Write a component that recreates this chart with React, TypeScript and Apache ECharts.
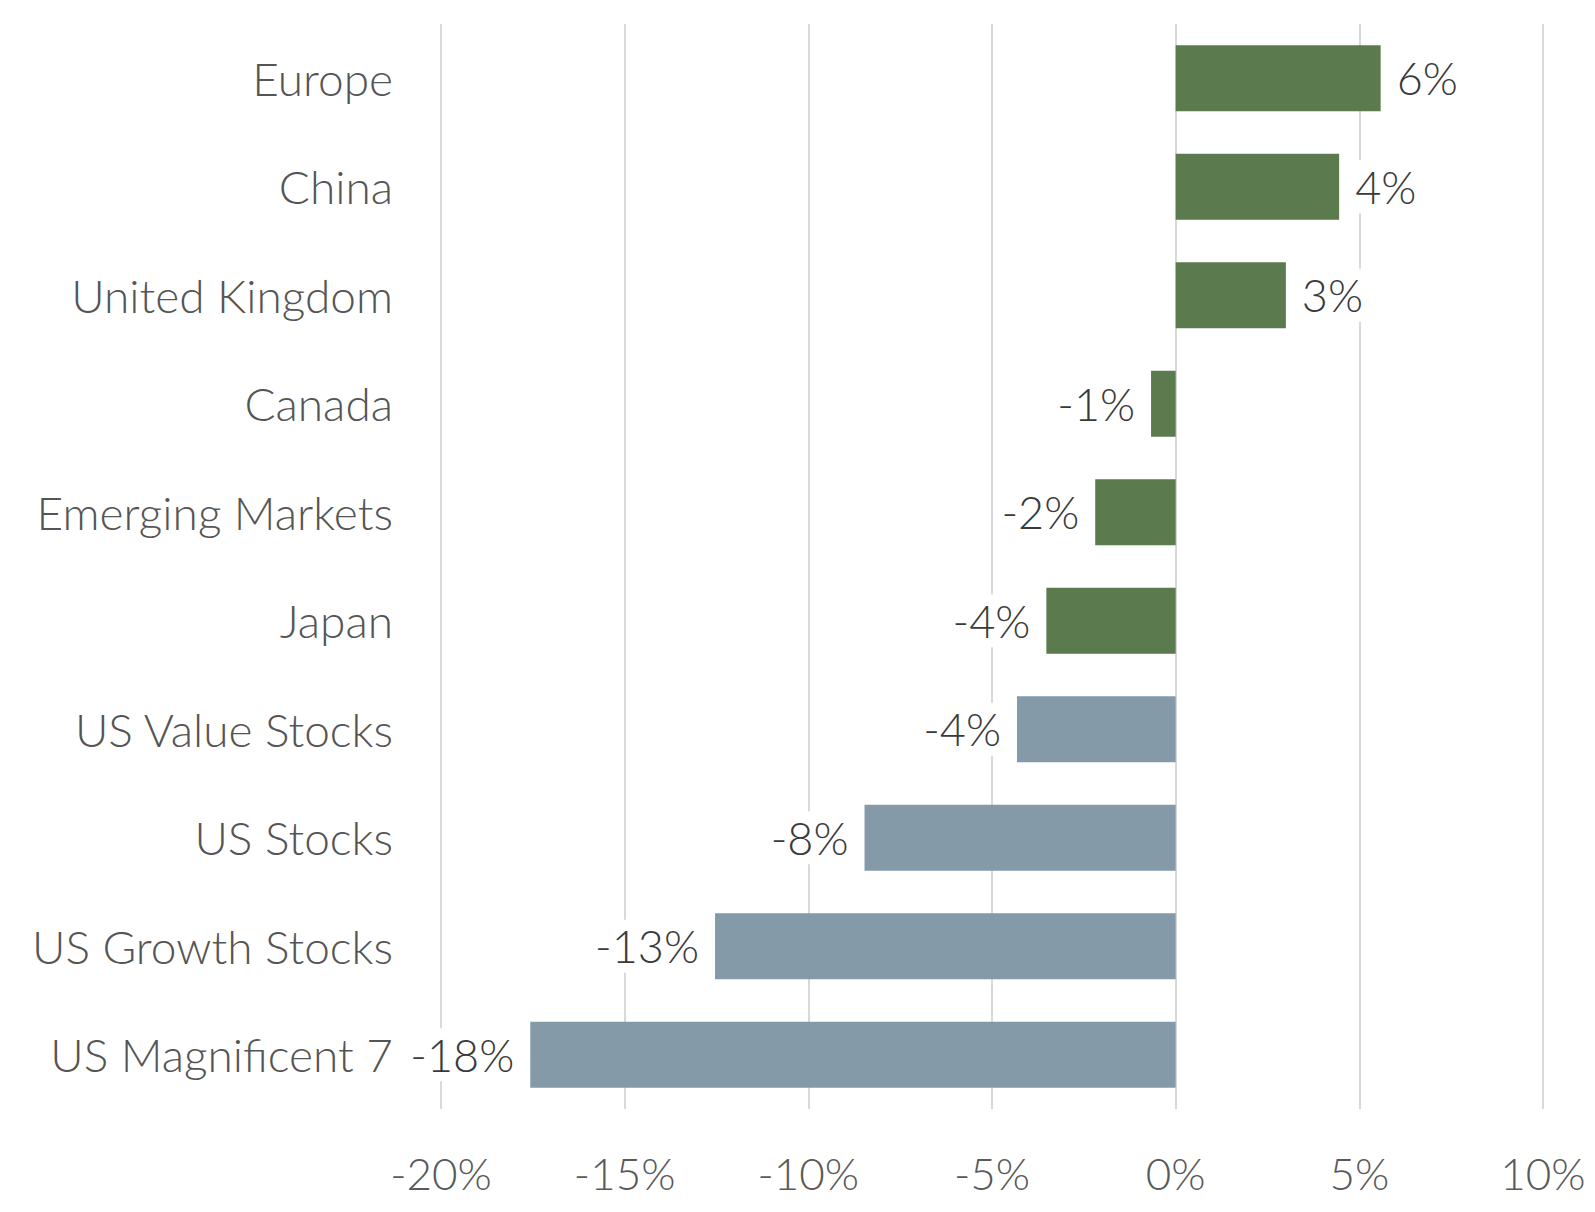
import React, { useEffect, useRef } from "react";
import * as echarts from "echarts";

const categories = [
  "Europe",
  "China",
  "United Kingdom",
  "Canada",
  "Emerging Markets",
  "Japan",
  "US Value Stocks",
  "US Stocks",
  "US Growth Stocks",
  "US Magnificent 7",
];
const values = [5.58, 4.45, 3.0, -0.67, -2.19, -3.52, -4.32, -8.47, -12.54, -17.57];
const groups = ["intl", "intl", "intl", "intl", "intl", "intl", "us", "us", "us", "us"];
const xTicks = { min: -20, max: 10, interval: 5 };

const GREEN = "#5B7A4D";
const GRAY = "#849AA8";
const FONT = "Lato";

export default function App() {
  const ref = useRef<HTMLDivElement>(null);
  useEffect(() => {
    if (!ref.current) return;
    const chart = echarts.init(ref.current, null, { renderer: "svg" });
    const data = values.map((v, i) => ({
      value: v,
      itemStyle: { color: groups[i] === "intl" ? GREEN : GRAY },
      label: { position: v >= 0 ? "right" : "left" },
    }));
    chart.setOption({
      animation: false,
      backgroundColor: "#ffffff",
      grid: { left: 441, right: 52, top: 24, bottom: 103, containLabel: false },
      xAxis: {
        type: "value",
        min: xTicks.min,
        max: xTicks.max,
        interval: xTicks.interval,
        axisLine: { show: false },
        axisTick: { show: false },
        splitLine: { show: true, lineStyle: { color: "#D9D9D9", width: 2 } },
        axisLabel: {
          formatter: (v: number) => `${v}%`,
          color: "#595959",
          fontFamily: FONT,
          fontWeight: 300,
          fontSize: 44,
          margin: 42,
        },
      },
      yAxis: {
        type: "category",
        data: categories,
        inverse: true,
        axisLine: { show: false },
        axisTick: { show: false },
        splitLine: { show: false },
        axisLabel: {
          color: "#555555",
          fontFamily: FONT,
          fontWeight: 300,
          fontSize: 46,
          margin: 48,
        },
      },
      series: [
        {
          type: "bar",
          data,
          barCategoryGap: "39%",
          label: {
            show: true,
            formatter: (p: any) => `${Math.round(p.value)}%`,
            color: "#3A3A3A",
            fontFamily: FONT,
            fontWeight: 300,
            fontSize: 45,
            distance: 12,
            backgroundColor: "#ffffff",
            padding: [4, 4],
          },
        },
      ],
    });
    return () => chart.dispose();
  }, []);
  return (
    <div
      ref={ref}
      style={{ position: "absolute", left: 0, top: 0, width: 1595, height: 1212 }}
    />
  );
}
